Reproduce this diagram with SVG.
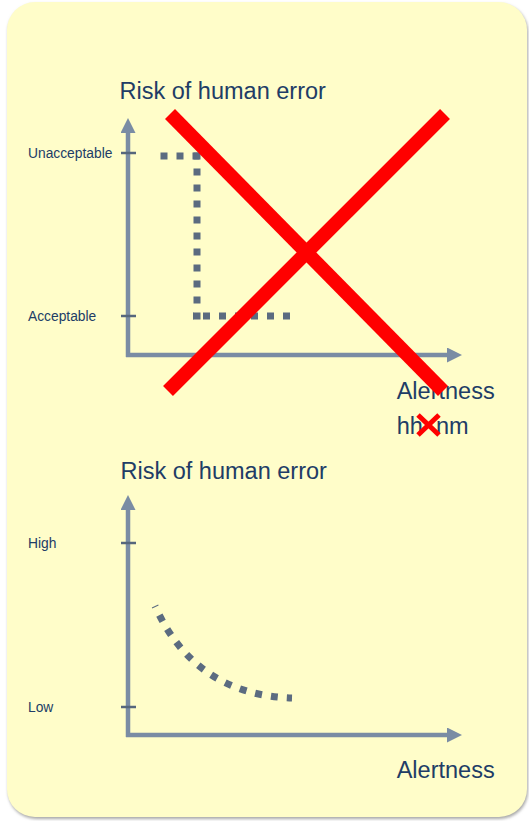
<svg xmlns="http://www.w3.org/2000/svg" width="529" height="821" viewBox="0 0 529 821">
  <style>
    .lbl { font-family: "Liberation Sans", Arial, sans-serif; fill: #213c66; }
    .big { font-size: 23.5px; }
    .small { font-size: 13.8px; }
    .axis { stroke: #7a8ca4; stroke-width: 4.5; fill: none; }
    .tick { stroke: #56667c; stroke-width: 2.5; }
    .dots { stroke: #5b6b80; stroke-width: 7; fill: none; stroke-dasharray: 7 9; }
    .cross { stroke: #ff0000; stroke-linecap: butt; fill: none; }
  </style>
  <defs>
    <marker id="arrow" viewBox="0 0 15 15" refX="0" refY="7.5" markerWidth="15" markerHeight="15" markerUnits="userSpaceOnUse" orient="auto">
      <path d="M0,0 L15,7.5 L0,15 Z" fill="#7a8ca4"/>
    </marker>
    <filter id="soft" x="-5%" y="-5%" width="110%" height="110%">
      <feGaussianBlur stdDeviation="1.5"/>
    </filter>
  </defs>

  <!-- white page -->
  <rect x="0" y="0" width="529" height="821" fill="#ffffff"/>

  <!-- panel with soft shadow -->
  <g id="panel">
    <rect x="8" y="4" width="520" height="815" rx="28" fill="#a8a8a8" filter="url(#soft)"/>
    <rect x="7" y="2" width="520" height="815" rx="28" fill="#fffdc9"/>
  </g>

  <!-- upper chart -->
  <g id="chart-top">
    <text class="lbl big" x="119.5" y="99">Risk of human error</text>
    <line class="axis" x1="128" y1="357" x2="128" y2="133" marker-end="url(#arrow)"/>
    <line class="axis" x1="126" y1="355" x2="447" y2="355" marker-end="url(#arrow)"/>
    <line class="tick" x1="121" y1="153" x2="136" y2="153"/>
    <line class="tick" x1="121" y1="316" x2="136" y2="316"/>
    <text class="lbl small" x="28" y="157.5">Unacceptable</text>
    <text class="lbl small" x="28" y="321">Acceptable</text>
    <text class="lbl big" x="396.7" y="399">Alertness</text>
    <text class="lbl big" x="396.7" y="434">hh</text>
    <text class="lbl big" x="435.9" y="434">nm</text>
  </g>

  <!-- step threshold line -->
  <g id="threshold">
    <line class="dots" x1="160.5" y1="156" x2="201" y2="156"/>
    <line class="dots" x1="197" y1="152.5" x2="197" y2="320"/>
    <line class="dots" x1="193" y1="316" x2="293" y2="316" stroke-dashoffset="6"/>
  </g>

  <!-- crossing-out marks -->
  <g id="cross-out">
    <line class="cross" stroke-width="14" x1="170" y1="114" x2="443" y2="391"/>
    <line class="cross" stroke-width="14" x1="445" y1="114" x2="168" y2="391"/>
    <line class="cross" stroke-width="5" x1="418" y1="415" x2="439" y2="435"/>
    <line class="cross" stroke-width="5" x1="439" y1="415" x2="418" y2="435"/>
  </g>

  <!-- lower chart -->
  <g id="chart-bottom">
    <text class="lbl big" x="120.5" y="479">Risk of human error</text>
    <line class="axis" x1="128" y1="737" x2="128" y2="510" marker-end="url(#arrow)"/>
    <line class="axis" x1="126" y1="735" x2="447" y2="735" marker-end="url(#arrow)"/>
    <line class="tick" x1="121" y1="543" x2="136" y2="543"/>
    <line class="tick" x1="121" y1="707" x2="136" y2="707"/>
    <text class="lbl small" x="28" y="547.5">High</text>
    <text class="lbl small" x="28" y="711.5">Low</text>
    <text class="lbl big" x="396.7" y="778">Alertness</text>
  </g>

  <!-- decreasing risk curve -->
  <g id="curve">
    <path class="dots" d="M155,606 Q195,695 292,698" stroke-dashoffset="6"/>
  </g>
</svg>
